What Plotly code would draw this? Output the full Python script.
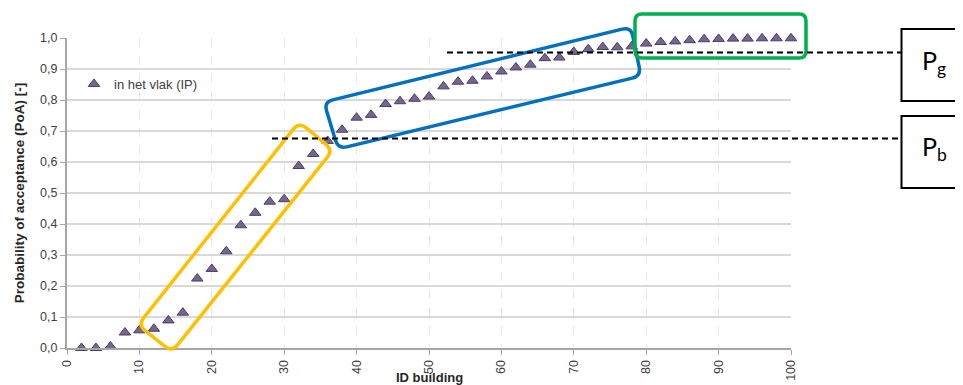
import math
import plotly.graph_objects as go

# ---------------- data ----------------
building_ids = list(range(2, 101, 2))
poa = [0.00, 0.00, 0.005, 0.05, 0.057, 0.062, 0.089, 0.114, 0.224, 0.255,
       0.312, 0.396, 0.436, 0.472, 0.480, 0.587, 0.626, 0.668, 0.704, 0.743,
       0.752, 0.787, 0.796, 0.804, 0.811, 0.844, 0.859, 0.862, 0.876, 0.892,
       0.905, 0.914, 0.935, 0.937, 0.955, 0.964, 0.971, 0.970, 0.973, 0.982,
       0.987, 0.989, 0.993, 0.996, 0.997, 0.998, 0.998, 0.999, 0.999, 0.999]
series_name = "in het vlak (IP)"
x_ticks = list(range(0, 101, 10))
y_ticks = [round(i * 0.1, 1) for i in range(11)]

# ---------------- geometry (page pixels; page body has an 8px offset) ----------------
OFF = 8
W, H = 963, 385
PLOT_X0, PLOT_X1 = 67, 791      # page px of x=0 and x=100
PLOT_Y0, PLOT_Y1 = 38, 348      # page px of y=1 and y=0
PW, PH = PLOT_X1 - PLOT_X0, PLOT_Y1 - PLOT_Y0
L = PLOT_X0 - OFF
T = PLOT_Y0 - OFF
R = W - L - PW
B = H - T - PH


def px2x(px):
    return (px - PLOT_X0) / PW


def px2y(py):
    return (PLOT_Y1 - py) / PH


def rounded_path(corners, r):
    n = len(corners)
    parts = []
    for i in range(n):
        p0 = corners[i - 1]
        p1 = corners[i]
        p2 = corners[(i + 1) % n]
        d1 = math.hypot(p1[0] - p0[0], p1[1] - p0[1])
        d2 = math.hypot(p2[0] - p1[0], p2[1] - p1[1])
        a = (p1[0] + (p0[0] - p1[0]) * r / d1, p1[1] + (p0[1] - p1[1]) * r / d1)
        b = (p1[0] + (p2[0] - p1[0]) * r / d2, p1[1] + (p2[1] - p1[1]) * r / d2)
        cmd = "M" if i == 0 else "L"
        parts.append(f"{cmd}{px2x(a[0]):.5f},{px2y(a[1]):.5f}")
        parts.append(f"Q{px2x(p1[0]):.5f},{px2y(p1[1]):.5f} {px2x(b[0]):.5f},{px2y(b[1]):.5f}")
    parts.append("Z")
    return " ".join(parts)


fig = go.Figure()
fig.add_trace(go.Scatter(
    x=building_ids, y=poa, mode="markers", name=series_name,
    marker=dict(symbol="triangle-up", size=10, color="#76668F",
                line=dict(color="#4B3D63", width=1)),
    cliponaxis=False,
))

shapes = []
# yellow, blue, green highlight boxes
shapes.append(dict(type="path", xref="paper", yref="paper",
                   path=rounded_path([(138, 325), (299, 122), (333, 150), (172, 352)], 9),
                   line=dict(color="#FFC000", width=3.5)))
shapes.append(dict(type="path", xref="paper", yref="paper",
                   path=rounded_path([(324, 102), (631, 27), (641, 76), (338, 149)], 9),
                   line=dict(color="#0070C0", width=3.5)))
shapes.append(dict(type="path", xref="paper", yref="paper",
                   path=rounded_path([(635, 14), (806, 14), (806, 58), (635, 58)], 7),
                   line=dict(color="#00B050", width=3.5)))
# dashed reference lines
shapes.append(dict(type="line", xref="paper", yref="paper",
                   x0=px2x(447), x1=px2x(901), y0=px2y(52.5), y1=px2y(52.5),
                   line=dict(color="black", width=2, dash="6px,4px")))
shapes.append(dict(type="line", xref="paper", yref="paper",
                   x0=px2x(272), x1=px2x(901), y0=px2y(138.5), y1=px2y(138.5),
                   line=dict(color="black", width=2, dash="6px,4px")))
# P boxes
shapes.append(dict(type="rect", xref="paper", yref="paper",
                   x0=px2x(901.5), x1=px2x(990), y0=px2y(29), y1=px2y(101),
                   line=dict(color="black", width=2), fillcolor="white"))
shapes.append(dict(type="rect", xref="paper", yref="paper",
                   x0=px2x(901.5), x1=px2x(990), y0=px2y(116), y1=px2y(188),
                   line=dict(color="black", width=2), fillcolor="white"))

annotations = [
    dict(text="P<sub>g</sub>", xref="paper", yref="paper", x=px2x(934), y=px2y(62),
         showarrow=False, font=dict(family="Lato", size=25, color="black"),
         xanchor="center", yanchor="middle"),
    dict(text="P<sub>b</sub>", xref="paper", yref="paper", x=px2x(934), y=px2y(148),
         showarrow=False, font=dict(family="Lato", size=25, color="black"),
         xanchor="center", yanchor="middle"),
    dict(text="<b>ID building</b>", xref="paper", yref="paper", x=px2x(429), y=px2y(377),
         showarrow=False, font=dict(family="Liberation Sans", size=13, color="#262626"),
         xanchor="center", yanchor="middle"),
]

fig.update_layout(
    width=W, height=H,
    margin=dict(l=L, r=R, t=T, b=B, autoexpand=False),
    paper_bgcolor="white", plot_bgcolor="white",
    separators=", ",
    font=dict(family="Liberation Sans", size=12, color="#404040"),
    showlegend=True,
    legend=dict(x=px2x(74), y=px2y(84), xanchor="left", yanchor="middle",
                bgcolor="rgba(0,0,0,0)", font=dict(size=13, color="#404040"),
                itemwidth=30),
    shapes=shapes,
    annotations=annotations,
    xaxis=dict(range=[0, 100], tickvals=x_ticks, tickangle=-90,
               showline=True, linecolor="#A6A6A6", linewidth=2,
               ticks="outside", ticklen=5, tickcolor="#A6A6A6",
               showgrid=True, gridcolor="#E6E6E6", griddash="dash", gridwidth=1,
               zeroline=False, tickfont=dict(size=12.5, color="#404040")),
    yaxis=dict(range=[0, 1], tickvals=y_ticks, tickformat=".1f",
               showline=True, linecolor="#A6A6A6", linewidth=2,
               ticks="outside", ticklen=5, tickcolor="#A6A6A6",
               showgrid=True, gridcolor="#D9D9D9", gridwidth=1.5,
               zeroline=False, tickfont=dict(size=12.5, color="#404040"),
               title=dict(text="<b>Probability of acceptance (PoA) [-]</b>",
                          font=dict(size=13.5, color="#262626"), standoff=12)),
)

fig.write_html("out.html")
